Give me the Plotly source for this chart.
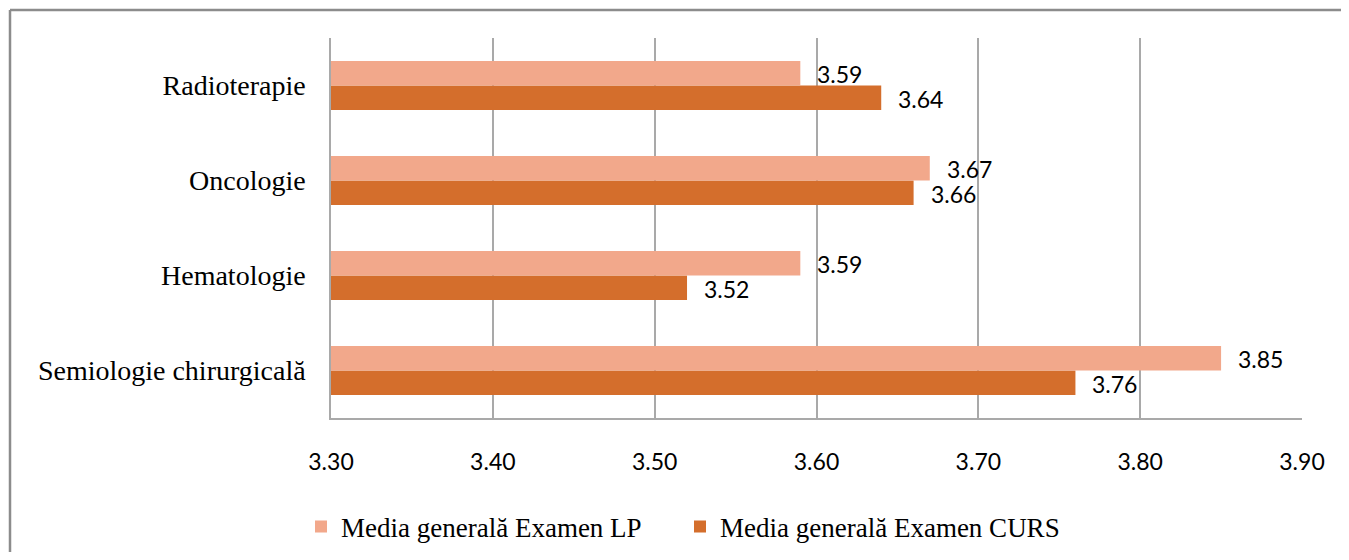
import plotly.graph_objects as go

# ---- data ----
categories = ["Semiologie chirurgicală", "Hematologie", "Oncologie", "Radioterapie"]
lp_values = [3.85, 3.59, 3.67, 3.59]
curs_values = [3.76, 3.52, 3.66, 3.64]
series_names = ["Media generală Examen LP", "Media generală Examen CURS"]
x_tick_values = [3.30, 3.40, 3.50, 3.60, 3.70, 3.80, 3.90]
x_tick_labels = ["3.30", "3.40", "3.50", "3.60", "3.70", "3.80", "3.90"]

# ---- style ----
# page body keeps its default 8px margin; figure fits inside the window exactly
OFF = 8
W, H = 1349 - 2 * OFF, 560 - 2 * OFF
ML, MT = 331 - OFF, 38 - OFF
MR = W - (1302 - OFF)
MB = H - (418 - OFF)
PW, PH = W - ML - MR, H - MT - MB
LP_COLOR = "#F2A88B"
CURS_COLOR = "#D46E2C"
GRID = "#A9A9A9"
SERIF = "Liberation Serif, Times New Roman, serif"
SANS = "Lato, Open Sans, sans-serif"

fig = go.Figure()
# CURS first so it sits below LP within each group
fig.add_trace(go.Bar(
    y=categories, x=curs_values, orientation="h", name=series_names[1],
    marker=dict(color=CURS_COLOR, line=dict(width=0)), legend="legend2",
    hoverinfo="skip",
))
fig.add_trace(go.Bar(
    y=categories, x=lp_values, orientation="h", name=series_names[0],
    marker=dict(color=LP_COLOR, line=dict(width=0)), legend="legend",
    hoverinfo="skip",
))

annotations = []
for cat, v in zip(categories, lp_values):
    annotations.append(dict(x=v, y=cat, xref="x", yref="y", text=f"{v:.2f}",
                            showarrow=False, xanchor="left", yanchor="middle",
                            xshift=15, yshift=12,
                            font=dict(family=SANS, size=23, color="#000000")))
for cat, v in zip(categories, curs_values):
    annotations.append(dict(x=v, y=cat, xref="x", yref="y", text=f"{v:.2f}",
                            showarrow=False, xanchor="left", yanchor="middle",
                            xshift=15, yshift=-13,
                            font=dict(family=SANS, size=23, color="#000000")))

# outer frame (left and top edges only)
fx = (10 - OFF - ML) / PW
fy_top = (H - MB - (10 - OFF)) / PH
fy_bot = (H - MB - H - 20) / PH
shapes = [
    dict(type="line", xref="paper", yref="paper", x0=fx, x1=fx, y0=fy_bot, y1=fy_top,
         line=dict(color="#8C8C8C", width=2.5), layer="above"),
    dict(type="line", xref="paper", yref="paper", x0=fx, x1=(W + 20 - ML) / PW, y0=fy_top, y1=fy_top,
         line=dict(color="#8C8C8C", width=2.5), layer="above"),
]

fig.update_layout(
    width=W, height=H,
    margin=dict(l=ML, r=MR, t=MT, b=MB, pad=0),
    paper_bgcolor="white", plot_bgcolor="white",
    barmode="group", bargap=0.484, bargroupgap=0,
    annotations=annotations, shapes=shapes,
    showlegend=True,
    legend=dict(orientation="h", xref="container", yref="container",
                x=(301 - OFF) / W, xanchor="left", y=1 - (527 - OFF) / H, yanchor="middle",
                font=dict(family=SERIF, size=27, color="#000000"),
                bgcolor="rgba(0,0,0,0)", borderwidth=0),
    legend2=dict(orientation="h", xref="container", yref="container",
                 x=(680 - OFF) / W, xanchor="left", y=1 - (527 - OFF) / H, yanchor="middle",
                 font=dict(family=SERIF, size=27, color="#000000"),
                 bgcolor="rgba(0,0,0,0)", borderwidth=0),
    xaxis=dict(range=[3.30, 3.90], tickvals=x_tick_values, ticktext=x_tick_labels,
               showgrid=True, gridcolor=GRID, gridwidth=1.5,
               showline=True, linecolor=GRID, linewidth=1.5,
               ticks="", zeroline=False, ticklabelstandoff=23,
               tickfont=dict(family=SANS, size=23, color="#000000"), fixedrange=True),
    yaxis=dict(categoryorder="array", categoryarray=categories,
               showgrid=False, showline=True, linecolor=GRID, linewidth=1.5,
               ticks="", zeroline=False, ticklabelstandoff=18,
               tickfont=dict(family=SERIF, size=28, color="#000000"), fixedrange=True),
)

fig.write_html("out.html", config={"displayModeBar": False})
